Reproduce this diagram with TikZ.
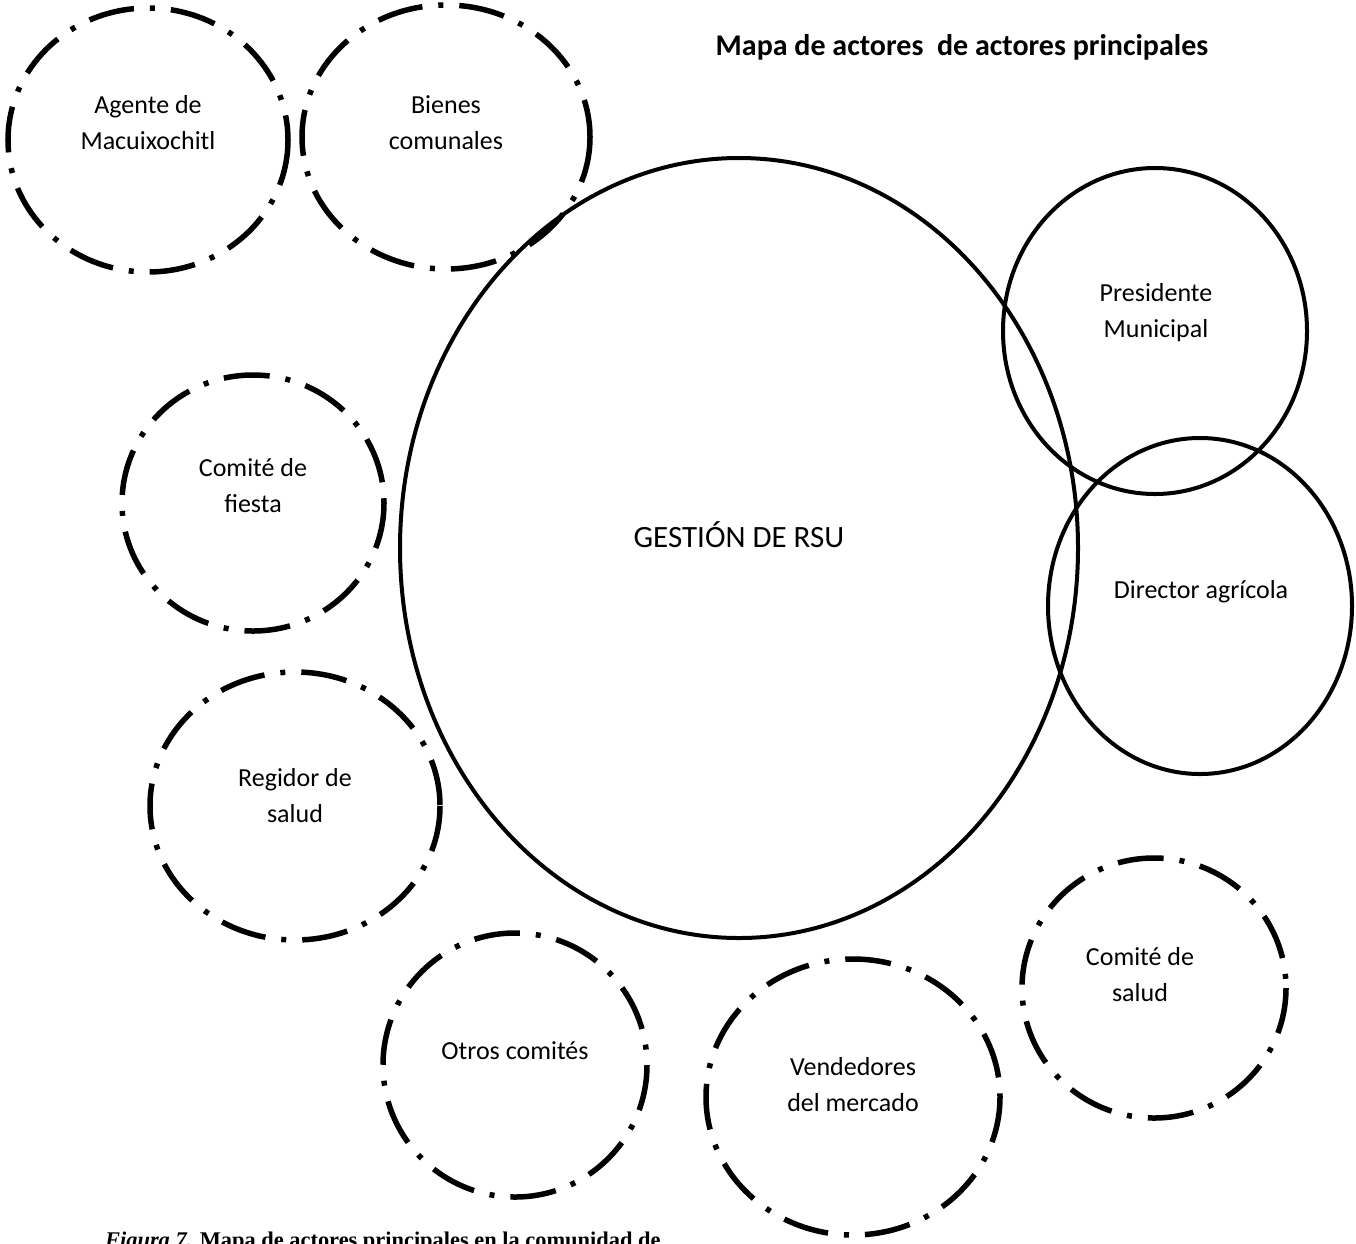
\documentclass[tikz,border=0pt]{standalone}
\usepackage{fontspec}
\setmainfont{Carlito}
\newfontfamily\capfont{Liberation Serif}
\begin{document}
\begin{tikzpicture}[x=1pt,y=-1pt,
  actor/.style={draw,line width=5.5pt,dash pattern=on 46pt off 16pt on 5pt off 16pt},
  mainactor/.style={draw,line width=4pt},
  lbl/.style={align=center,font=\fontsize{26}{36}\selectfont}]
\useasboundingbox (0,0) rectangle (1356,1243);
\clip (0,0) rectangle (1356,1243);
% dashed actors
\draw[actor] (148,140) ellipse [x radius=140,y radius=132];
\node[lbl] (agente) at (148,123) {Agente de\\Macuixochitl};
\draw[actor] (446,137) ellipse [x radius=144,y radius=132];
\node[lbl] (bienes) at (446,123) {Bienes\\comunales};
\draw[actor] (253,503) ellipse [x radius=131,y radius=128];
\node[lbl] (fiesta) at (253,486) {Comité de\\fiesta};
\draw[actor] (295,806) ellipse [x radius=145,y radius=134];
\node[lbl] (regidor) at (295,796) {Regidor de\\salud};
\draw[actor] (515,1065) ellipse [x radius=132,y radius=132];
\node[lbl] (otros) at (515,1051) {Otros comités};
\draw[actor] (853,1097) ellipse [x radius=147,y radius=138];
\node[lbl] (vendedores) at (853,1085) {Vendedores\\del mercado};
\draw[actor] (1154,988) ellipse [x radius=132,y radius=130];
\node[lbl] (csalud) at (1140,975) {Comité de\\salud};
% solid actors
\draw[mainactor] (739,548) ellipse [x radius=339,y radius=390];
\node[lbl,font=\fontsize{31}{36}\selectfont] (rsu) at (739,535) {GESTIÓN DE RSU};
\draw[mainactor] (1155,331) ellipse [x radius=152,y radius=163];
\node[lbl] (presidente) at (1156,313) {Presidente\\Municipal};
\draw[mainactor] (1200,606) ellipse [x radius=152,y radius=168];
\node[lbl] (director) at (1201,592) {Director agrícola};
% title
\node[font=\fontsize{30}{34}\selectfont\bfseries] (title) at (962,47) {Mapa de actores\ \ de actores principales};
% caption (cut off at bottom, as in the reference)
\node[anchor=base west,font=\capfont\fontsize{22.4}{26}\selectfont\bfseries,inner sep=0pt] (caption) at (105,1247) {\textit{Figura 7.} Mapa de actores principales en la comunidad de};
\end{tikzpicture}
\end{document}
